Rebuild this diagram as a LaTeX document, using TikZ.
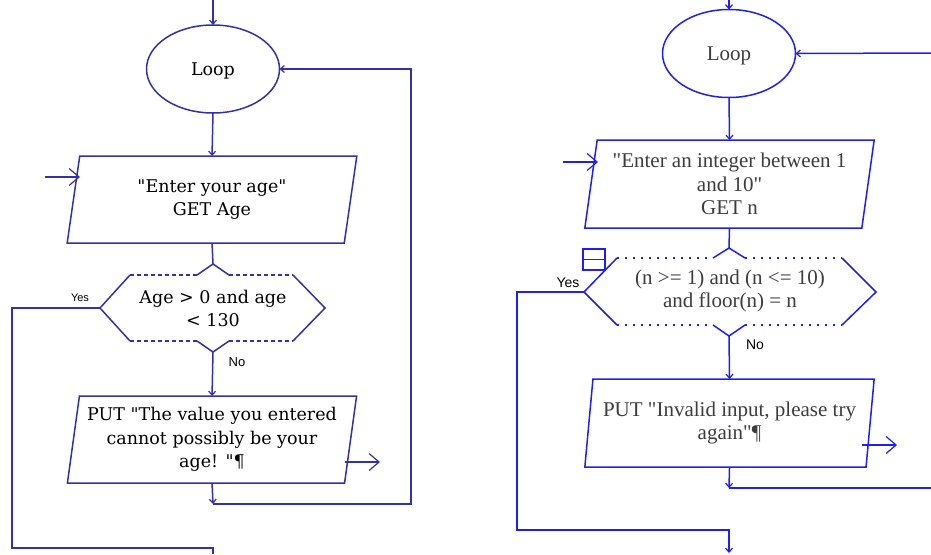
\documentclass[tikz,border=0pt]{standalone}
\usepackage{fontspec}
\setmainfont{Liberation Serif}[Ligatures=TeXOff]
\newfontfamily\oldserif{DejaVu Serif}[Ligatures=TeXOff]
\newfontfamily\labelsans{Liberation Sans}
\usetikzlibrary{shapes.geometric,arrows.meta}

\definecolor{navyline}{RGB}{48,48,176}
\definecolor{brightline}{RGB}{30,30,250}
\definecolor{softtext}{RGB}{60,60,60}

\tikzset{
  flowline/.style={line width=1.5pt},
  smalltip/.style={-{Straight Barb[length=4pt,width=7pt,line width=1.2pt]}},
  bigtip/.style={-{Straight Barb[length=10pt,width=17pt,line width=1.2pt]}},
  loopnode/.style={ellipse, draw, flowline, inner sep=0pt, outer sep=0pt,
    minimum width=133pt, minimum height=88pt, text depth=0pt},
  iobox/.style={trapezium, trapezium left angle=80, trapezium right angle=100,
    trapezium stretches=true, draw, flowline, inner sep=0pt, outer sep=0pt,
    minimum width=290pt, minimum height=87pt, align=center},
  leftpanel/.style={navyline, text=black, font=\oldserif\fontsize{17.5}{23.5}\selectfont},
  rightpanel/.style={brightline, text=softtext, font=\fontsize{21}{23.5}\selectfont},
  leftdash/.style={flowline, dash pattern=on 4pt off 3pt},
  rightdot/.style={flowline, dash pattern=on 2pt off 6pt},
}

\begin{document}
\begin{tikzpicture}[x=1pt,y=-1pt]
\useasboundingbox (0,0) rectangle (931,554);

%% ---------------- first chart: age check ----------------
\begin{scope}[leftpanel]
  \node[loopnode] (loopA) at (213,69) {Loop};
  \node[iobox] (inA) at (212,199.5) {"Enter your age"\\GET Age};
  \node[iobox] (outA) at (212,439.5) {PUT "The value you entered\\cannot possibly be your\\age! "\P};

  % decision outline
  \coordinate (hALeft)  at (100,308);
  \coordinate (hATL)    at (130,275);
  \coordinate (hATR)    at (293,275);
  \coordinate (hARight) at (325,308);
  \coordinate (hABR)    at (293,341);
  \coordinate (hABL)    at (130,341);
  \coordinate (hAApex)  at (213,264);
  \coordinate (hATip)   at (213,352);
  \draw[flowline] (hATL) -- (hALeft) -- (hABL);
  \draw[flowline] (hATR) -- (hARight) -- (hABR);
  \draw[flowline] (197,275) -- (hAApex) -- (229,275);
  \draw[flowline] (197,341) -- (hATip) -- (229,341);
  \draw[leftdash] (hATL) -- (197,275);
  \draw[leftdash] (229,275) -- (hATR);
  \draw[leftdash] (hABL) -- (197,341);
  \draw[leftdash] (229,341) -- (hABR);
  \node[align=center] (decA) at (213,308.5) {Age > 0 and age\\< 130};

  \node[text=black, font=\labelsans\fontsize{11}{12}\selectfont] (yesA) at (80,298) {Yes};
  \node[text=black, font=\labelsans\fontsize{13}{14}\selectfont] (noA) at (237,362) {No};

  % connectors
  \coordinate (topA) at (213,0);
  \coordinate (feedA) at (45,177);
  \coordinate (feedAend) at (80,177);
  \coordinate (putA) at (345,462);
  \coordinate (putAend) at (380,462);
  \coordinate (cornA) at (213,504);
  \coordinate (retA) at (411,504);
  \coordinate (yesAcorner) at (12,548);
  \coordinate (exitA) at (213,554);

  \draw[flowline, smalltip] (topA) -- (loopA.north);
  \draw[flowline, smalltip] (loopA.south) -- (inA.north);
  \draw[flowline] (inA.south) -- (hAApex);
  \draw[flowline, bigtip] (feedA) -- (feedAend);
  \draw[flowline, smalltip] (hATip) -- (outA.north);
  \draw[flowline, bigtip] (putA) -- (putAend);
  \draw[flowline, smalltip] (outA.south) -- (cornA);
  \draw[flowline, smalltip] (cornA) -- (retA) |- (loopA.east);
  \draw[flowline] (hALeft) -| (yesAcorner) -| (exitA);
\end{scope}

%% ---------------- second chart: integer check ----------------
\begin{scope}[rightpanel]
  \node[loopnode] (loopB) at (729,53.5) {Loop};
  \node[iobox, minimum height=88pt] (inB) at (729.5,184) {"Enter an integer between 1\\and 10"\\GET n};
  \node[iobox, minimum height=88pt] (outB) at (729.5,423) {PUT "Invalid input, please try\\again"\P};

  % decision outline
  \coordinate (hBLeft)  at (584,292);
  \coordinate (hBTL)    at (617,258);
  \coordinate (hBTR)    at (842,258);
  \coordinate (hBRight) at (876,292);
  \coordinate (hBBR)    at (842,325);
  \coordinate (hBBL)    at (617,325);
  \coordinate (hBApex)  at (729,248);
  \coordinate (hBTip)   at (729,336);
  \draw[flowline] (hBTL) -- (hBLeft) -- (hBBL);
  \draw[flowline] (hBTR) -- (hBRight) -- (hBBR);
  \draw[flowline] (713,258) -- (hBApex) -- (745,258);
  \draw[flowline] (713,325) -- (hBTip) -- (745,325);
  \draw[rightdot] (hBTL) -- (713,258);
  \draw[rightdot] (745,258) -- (hBTR);
  \draw[rightdot] (hBBL) -- (713,325);
  \draw[rightdot] (745,325) -- (hBBR);
  \node[align=center] (decB) at (730,291) {(n >= 1) and (n <= 10)\\and floor(n) = n};

  % breakpoint marker
  \draw[line width=1.3pt] (583,249) rectangle (605,270);
  \draw[line width=1.3pt] (583,259.5) -- (605,259.5);

  \node[text=black, font=\labelsans\fontsize{14}{15}\selectfont] (yesB) at (568,283) {Yes};
  \node[text=black, font=\labelsans\fontsize{14}{15}\selectfont] (noB) at (755,345) {No};

  % connectors
  \coordinate (topB) at (729,0);
  \coordinate (backB) at (931,53);
  \coordinate (feedB) at (563,162);
  \coordinate (feedBend) at (598,162);
  \coordinate (putB) at (862,445);
  \coordinate (putBend) at (897,445);
  \coordinate (cornB) at (729,488);
  \coordinate (retB) at (931,488);
  \coordinate (yesBcorner) at (517,530);
  \coordinate (exitB) at (729,553);

  \draw[flowline, smalltip] (topB) -- (loopB.north);
  \draw[flowline, smalltip] (backB) -- (loopB.east);
  \draw[flowline, smalltip] (loopB.south) -- (inB.north);
  \draw[flowline] (inB.south) -- (hBApex);
  \draw[flowline, bigtip] (feedB) -- (feedBend);
  \draw[flowline, smalltip] (hBTip) -- (outB.north);
  \draw[flowline, bigtip] (putB) -- (putBend);
  \draw[flowline, smalltip] (outB.south) -- (cornB);
  \draw[flowline] (cornB) -- (retB);
  \draw[flowline, smalltip] (hBLeft) -| (yesBcorner) -| (exitB);
\end{scope}
\end{tikzpicture}
\end{document}
